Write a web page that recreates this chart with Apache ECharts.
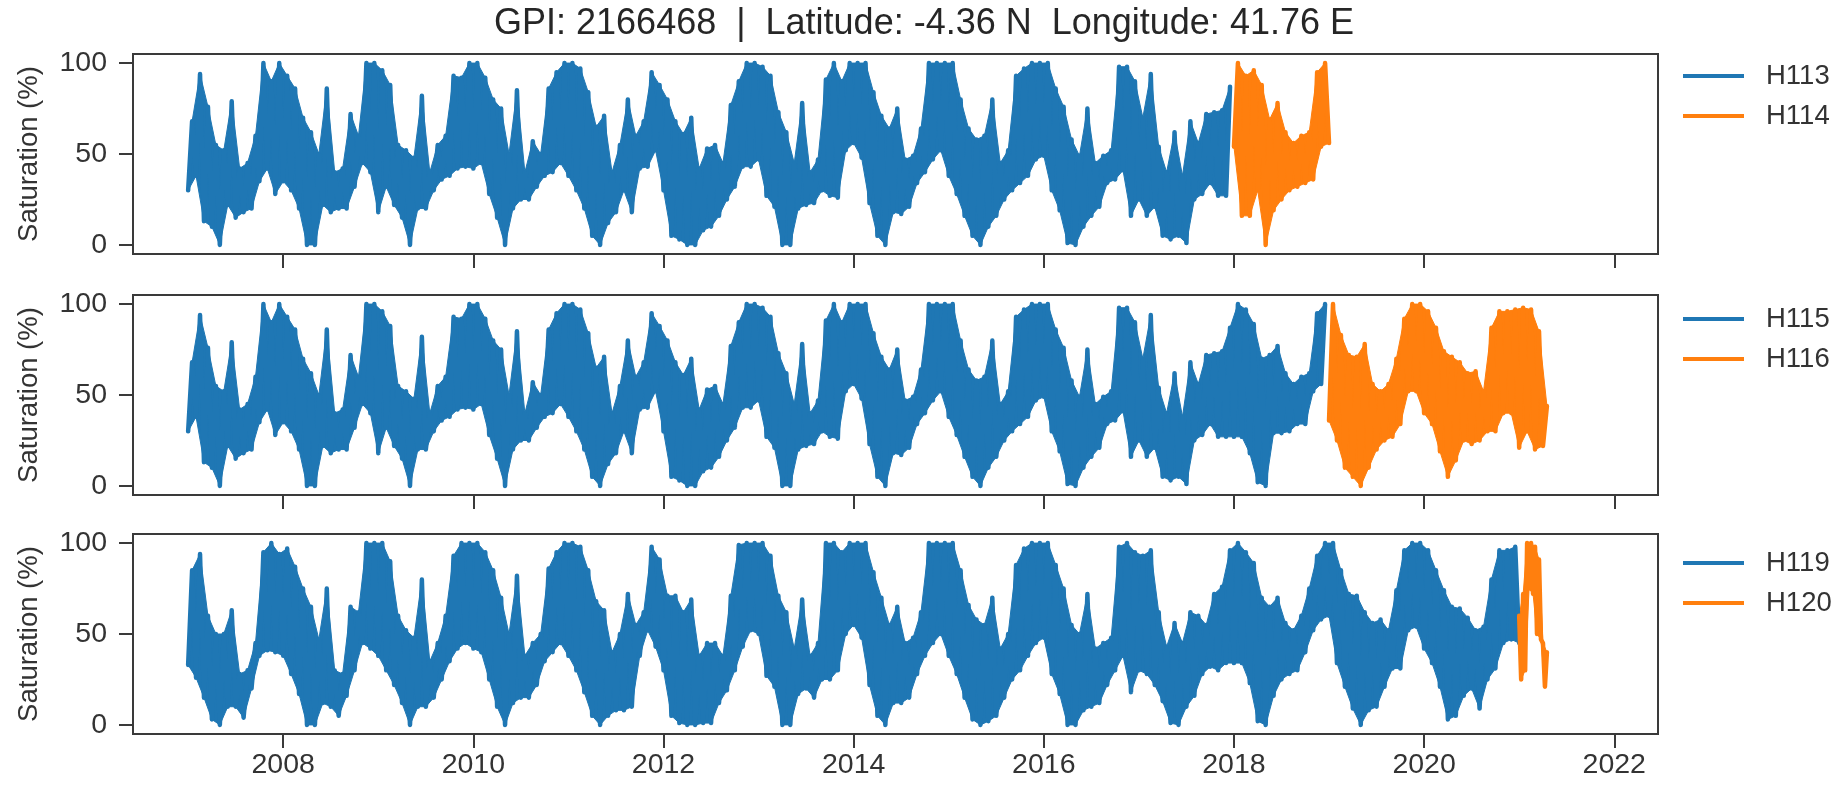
<!DOCTYPE html>
<html>
<head>
<meta charset="utf-8">
<script src="https://cdn.jsdelivr.net/npm/echarts@6/dist/echarts.min.js"></script>
<style>
  html, body { margin: 0; padding: 0; background: #fff; }
  #chart { width: 1848px; height: 794px; }
</style>
</head>
<body>
<div id="chart"></div>
<script>
// ---- Data (half-month low/high pairs, % saturation) ----
const titleText = 'GPI: 2166468  |  Latitude: -4.36 N  Longitude: 41.76 E';
const xTicks = [2008, 2010, 2012, 2014, 2016, 2018, 2020, 2022];
const yTicks = [0, 50, 100];

// H113 / H115 record 2007-2017 (each year: Jan low, Jan high, Feb low, Feb high, ...)
const sat2007 = [30,68, 38,94, 13,76, 10,55, 0,52, 22,79, 15,42, 18,45, 20,60, 35,100, 42,90, 28,100];
const sat2008 = [35,93, 30,86, 20,70, 0,62, 0,50, 22,86, 18,40, 20,42, 20,72, 32,60, 45,100, 40,100];
const sat2009 = [18,96, 32,88, 22,55, 15,52, 0,48, 20,82, 20,40, 30,55, 36,60, 38,93, 42,92, 43,100];
const sat2010 = [42,100, 45,92, 28,80, 15,75, 0,50, 20,85, 25,40, 25,57, 32,50, 38,86, 40,95, 45,100];
const sat2011 = [38,100, 30,97, 20,84, 5,65, 0,71, 12,40, 18,55, 30,80, 18,60, 42,68, 43,95, 52,88];
const sat2012 = [30,80, 5,68, 3,61, 0,70, 0,42, 8,53, 10,55, 16,45, 25,77, 32,90, 43,100, 43,100];
const sat2013 = [47,98, 27,93, 21,73, 0,62, 0,45, 20,78, 22,40, 23,47, 30,91, 27,100, 26,90, 52,100];
const sat2014 = [56,100, 48,100, 23,84, 5,71, 0,64, 18,75, 17,47, 21,49, 34,64, 40,100, 47,100, 52,100];
const sat2015 = [38,100, 28,80, 16,64, 5,58, 0,60, 10,80, 16,45, 25,52, 30,93, 34,97, 38,100, 47,100];
const sat2016 = [49,100, 30,86, 19,76, 1,58, 0,49, 10,75, 16,45, 21,49, 34,52, 36,98, 41,98, 16,90];
const sat2017 = [25,70, 16,94, 21,54, 5,40, 3,62, 5,38, 1,68, 25,56, 28,72, 34,73, 27,74, 27,87];
// H115 blue 2018
const h115_2018 = [27,100, 27,97, 18,89, 2,70, 0,72, 29,77, 29,62, 30,56, 34,60, 34,62, 52,95, 56,100];
// H119 blue record 2007-2020 and the start of 2021
const h119_2007 = [33,85, 26,94, 15,60, 3,50, 0,50, 10,63, 10,28, 4,30, 20,45, 38,95, 41,100, 40,94];
const h119_2008 = [38,97, 28,87, 17,75, 0,65, 0,47, 12,75, 10,30, 5,28, 16,65, 30,62, 45,100, 42,100];
const h119_2009 = [38,100, 30,90, 22,60, 12,52, 0,48, 10,80, 10,35, 15,45, 25,60, 35,93, 42,100, 45,100];
const h119_2010 = [42,100, 40,95, 25,85, 10,70, 0,50, 12,82, 15,38, 15,45, 22,50, 35,86, 40,95, 45,100];
const h119_2011 = [38,100, 30,98, 18,85, 5,68, 0,63, 5,40, 8,50, 8,72, 10,55, 38,62, 52,98, 43,91];
const h119_2012 = [30,71, 5,71, 1,62, 0,69, 0,38, 1,45, 1,45, 12,38, 19,71, 30,99, 43,100, 52,100];
const h119_2013 = [50,100, 27,93, 21,71, 0,62, 0,42, 17,69, 20,38, 15,45, 25,100, 25,100, 30,95, 50,100];
const h119_2014 = [55,100, 48,100, 22,84, 5,70, 0,55, 12,65, 12,45, 15,48, 28,62, 38,100, 45,100, 50,100];
const h119_2015 = [38,100, 28,85, 15,66, 3,58, 0,55, 2,70, 5,42, 15,50, 25,88, 30,97, 38,100, 45,100];
const h119_2016 = [48,100, 28,88, 17,75, 0,55, 0,50, 8,72, 10,42, 12,45, 22,48, 30,98, 38,100, 18,95];
const h119_2017 = [30,93, 28,96, 22,62, 13,43, 1,56, 0,45, 10,62, 16,60, 28,55, 32,72, 30,76, 34,96];
const h119_2018 = [34,100, 34,95, 23,89, 2,70, 0,65, 16,70, 25,56, 28,52, 30,60, 40,75, 52,93, 58,100];
const h119_2019 = [60,100, 34,85, 21,72, 9,71, 0,62, 8,56, 10,58, 21,52, 31,74, 31,96, 52,100, 54,100];
const h119_2020 = [42,96, 34,85, 21,74, 3,65, 5,64, 16,59, 20,52, 9,54, 25,80, 31,96, 45,96, 47,98];
const h119_2021 = [45];
// orange series
const h114_2018 = [54,100, 16,93, 16,96, 30,88, 0,69, 19,78, 25,62, 30,56, 32,60, 34,62, 36,95, 54,100, 56];
const h116_2019 = [36,100, 25,83, 10,72, 5,71, 0,78, 10,56, 20,52, 25,56, 27,70, 34,92, 52,100, 52,100];
const h116_2020 = [40,96, 34,87, 19,74, 5,71, 14,68, 25,62, 23,63, 25,52, 30,87, 30,96, 40,96, 40,97];
const h116_2021 = [21,98, 30,97, 20,85, 22,44];
const h120_2021 = [60,25, 72,30, 100,75, 100,72, 98,50, 91,47, 45,21, 40];

// ---- build series from the arrays ----
const STEP = 1 / 24;
function toPoints(start, step, values) {
  return values.map((v, i) => [start + i * step, v]);
}
// consecutive triples of the dense trace -> filled triangles (solid band look)
function toTriangles(pts) {
  const out = [];
  for (let i = 0; i + 2 < pts.length; i++) {
    out.push([pts[i][0], pts[i][1], pts[i + 1][0], pts[i + 1][1], pts[i + 2][0], pts[i + 2][1]]);
  }
  return out;
}
const rec0717 = [].concat(sat2007, sat2008, sat2009, sat2010, sat2011, sat2012,
  sat2013, sat2014, sat2015, sat2016, sat2017);
const rec119 = [].concat(h119_2007, h119_2008, h119_2009, h119_2010, h119_2011, h119_2012,
  h119_2013, h119_2014, h119_2015, h119_2016, h119_2017, h119_2018, h119_2019, h119_2020, h119_2021);

const BLUE = '#1f77b4', ORANGE = '#ff7f0e';
const FONT = '"Liberation Sans", Arial, sans-serif';
const TXT = '#333333';
const AX = '#3a3a3a';

const gridTops = [54, 295, 534];
const names = [['H113', 'H114'], ['H115', 'H116'], ['H119', 'H120']];
const legendTops = [62, 305, 549];

const grids = gridTops.map(t => ({
  left: 133, top: t, width: 1525, height: 200,
  show: true, borderColor: AX, borderWidth: 2, backgroundColor: '#fff'
}));

const xAxes = gridTops.map((t, i) => ({
  type: 'value', gridIndex: i, min: 2006.42, max: 2022.46,
  axisLine: { show: true, onZero: false, lineStyle: { color: AX, width: 2 } },
  axisTick: { show: true, length: 14, customValues: xTicks, lineStyle: { color: AX, width: 2 } },
  axisLabel: { show: i === 2, customValues: xTicks, formatter: v => String(Math.round(v)),
    fontSize: 28.5, color: TXT, fontFamily: FONT, margin: 17 },
  splitLine: { show: false }
}));

const yAxes = gridTops.map((t, i) => ({
  type: 'value', gridIndex: i, min: -5, max: 105,
  name: 'Saturation (%)', nameLocation: 'middle', nameGap: 90,
  nameTextStyle: { fontSize: 27.5, color: TXT, fontFamily: FONT },
  axisLine: { show: true, onZero: false, lineStyle: { color: AX, width: 2 } },
  axisTick: { show: true, length: 14, customValues: yTicks, lineStyle: { color: AX, width: 2 } },
  axisLabel: { show: true, customValues: yTicks, fontSize: 28.5, color: TXT, fontFamily: FONT, margin: 26 },
  splitLine: { show: false }
}));

function lineSeries(name, idx, color, pts) {
  return {
    name: name, type: 'line', xAxisIndex: idx, yAxisIndex: idx,
    data: pts, showSymbol: false, symbol: 'none', sampling: null,
    lineStyle: { color: color, width: 4.5, join: 'round', cap: 'round' },
    itemStyle: { color: color }, animation: false, clip: true
  };
}
function bandSeries(name, idx, color, pts) {
  return {
    name: name + ' fill', type: 'custom', xAxisIndex: idx, yAxisIndex: idx,
    data: toTriangles(pts), silent: true, animation: false, clip: true,
    encode: { x: [0, 2, 4], y: [1, 3, 5] },
    renderItem: function (params, api) {
      const a = api.coord([api.value(0), api.value(1)]);
      const b = api.coord([api.value(2), api.value(3)]);
      const c = api.coord([api.value(4), api.value(5)]);
      return { type: 'polygon', shape: { points: [a, b, c] },
        style: { fill: color, stroke: color, lineWidth: 1 } };
    }
  };
}
function pair(name, idx, color, pts) {
  return [bandSeries(name, idx, color, pts), lineSeries(name, idx, color, pts)];
}

const p113 = toPoints(2007, STEP, rec0717);
const p114 = toPoints(2018, STEP, h114_2018);
const p115 = toPoints(2007, STEP, rec0717.concat(h115_2018));
const p116 = toPoints(2019, STEP, [].concat(h116_2019, h116_2020, h116_2021));
const p119 = toPoints(2007, STEP, rec119);
const p120 = toPoints(2021, 1 / 48, h120_2021);

const series = [].concat(
  pair('H113', 0, BLUE, p113), pair('H114', 0, ORANGE, p114),
  pair('H115', 1, BLUE, p115), pair('H116', 1, ORANGE, p116),
  pair('H119', 2, BLUE, p119), pair('H120', 2, ORANGE, p120)
);

const legends = names.map((n, i) => ({
  data: n, orient: 'vertical', left: 1683, top: legendTops[i], padding: 0,
  icon: 'rect', itemWidth: 61, itemHeight: 4, itemGap: 12,
  textStyle: { fontSize: 27.5, color: TXT, fontFamily: FONT, padding: [0, 0, 0, 17] }
}));

const chart = echarts.init(document.getElementById('chart'), null, { renderer: 'canvas' });
chart.setOption({
  backgroundColor: '#ffffff',
  animation: false,
  title: { text: titleText, left: 'center', top: 1,
    textStyle: { fontSize: 36, fontWeight: 'normal', color: '#262626', fontFamily: FONT } },
  grid: grids, xAxis: xAxes, yAxis: yAxes, legend: legends, series: series
});
</script>
</body>
</html>
